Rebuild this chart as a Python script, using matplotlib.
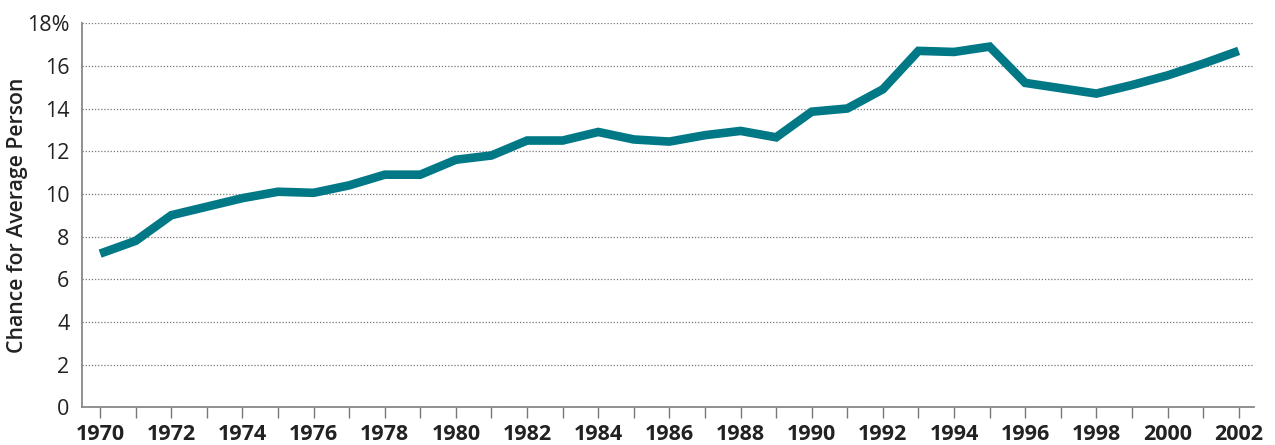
import matplotlib
matplotlib.use("Agg")
import matplotlib.pyplot as plt
from matplotlib.ticker import MultipleLocator

plt.rcParams['font.family'] = ['Open Sans', 'DejaVu Sans']

# Chance for average person, by year (%)
years = list(range(1970, 2003))
chance = [7.2, 7.8, 9.0, 9.4, 9.8, 10.1, 10.05, 10.4, 10.9, 10.9,
          11.6, 11.8, 12.5, 12.5, 12.9, 12.55, 12.45, 12.75, 12.95, 12.65,
          13.85, 14.0, 14.9, 16.7, 16.65, 16.9, 15.2, 14.95, 14.7, 15.1,
          15.55, 16.1, 16.7]
y_ticks = [0, 2, 4, 6, 8, 10, 12, 14, 16, 18]
y_labels = ["0", "2", "4", "6", "8", "10", "12", "14", "16", "18%"]
x_label_years = list(range(1970, 2003, 2))

fig = plt.figure(figsize=(12.75, 4.45), dpi=100)
ax = fig.add_axes([0.0643, 0.0847, 0.9192, 0.8633])

ax.plot(years, chance, color="#007886", linewidth=6.2, solid_joinstyle="miter",
        solid_capstyle="butt", zorder=3)

ax.set_xlim(1969.49, 2002.43)
ax.set_ylim(0, 18)
ax.set_yticks(y_ticks)
ax.set_yticklabels(y_labels)
ax.set_xticks(x_label_years)
ax.set_xticklabels([str(y) for y in x_label_years], fontweight="bold")
ax.xaxis.set_minor_locator(MultipleLocator(1))

ax.tick_params(axis="y", length=0, pad=9, labelsize=15.5, labelcolor="#222222")
ax.tick_params(axis="x", which="both", direction="out", length=8, width=1,
               color="#777777", pad=4, labelsize=15.5, labelcolor="#222222")

ax.grid(axis="y", linestyle=(0, (1, 1.5)), color="#777777", linewidth=0.9)
ax.set_axisbelow(True)

for side in ["top", "right"]:
    ax.spines[side].set_visible(False)
for side in ["left", "bottom"]:
    ax.spines[side].set_color("#888888")
    ax.spines[side].set_linewidth(1.3)

ax.set_ylabel("Chance for Average Person", fontsize=15.3, fontweight="semibold",
              color="#222222")
ax.yaxis.set_label_coords(-0.046, 0.5)

fig.savefig("out.png", dpi=100)
